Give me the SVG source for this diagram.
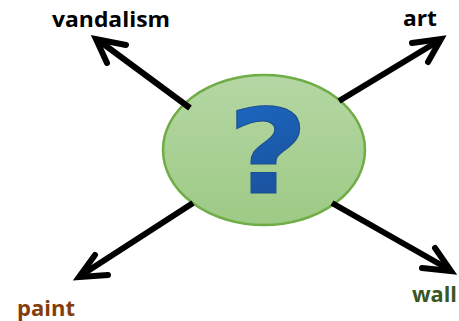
<svg xmlns="http://www.w3.org/2000/svg" width="459" height="321" viewBox="0 0 459 321">
<style>
.lbl{font-family:"Open Sans","DejaVu Sans",sans-serif;font-weight:bold;font-size:21px}
.shaft{fill:none;stroke:#000;stroke-width:6}
.head{fill:none;stroke:#000;stroke-width:6;stroke-linecap:round;stroke-linejoin:miter}
</style>
<defs>
<linearGradient id="gEl" x1="0" y1="0" x2="0" y2="1">
<stop offset="0" stop-color="#b5d7a4"/>
<stop offset="1" stop-color="#9dca85"/>
</linearGradient>
<linearGradient id="gQ" x1="0" y1="0" x2="0.3" y2="1">
<stop offset="0" stop-color="#1b6cc7"/>
<stop offset="1" stop-color="#1b4f99"/>
</linearGradient>
</defs>
<rect width="459" height="321" fill="#fff"/>
<g id="center">
<ellipse cx="264" cy="150" rx="101" ry="75" fill="url(#gEl)" stroke="#70ad47" stroke-width="2.5"/>
<text x="268" y="193" text-anchor="middle" font-family="DejaVu Sans,sans-serif" font-weight="bold" font-size="117" fill="url(#gQ)" stroke="#1d4f8e" stroke-width="1" transform="translate(268 0) scale(1.2 1) translate(-268 0)">?</text>
</g>
<g id="connectors">
<path class="shaft" d="M190,108 L98,40"/>
<path class="head" d="M126,45 L96,39 L107,63"/>
<path class="shaft" d="M339,101 L440,40"/>
<path class="head" d="M412,43 L441,39 L428,62"/>
<path class="shaft" d="M193,203 L80,276"/>
<path class="head" d="M95,255 L79,277 L108,275"/>
<path class="shaft" d="M332,203 L450,270"/>
<path class="head" d="M435,248 L451,271 L422,268"/>
</g>
<g id="vandalism"><text class="lbl" x="52" y="27" textLength="118" lengthAdjust="spacingAndGlyphs" fill="#000">vandalism</text></g>
<g id="art"><text class="lbl" x="403" y="26" textLength="34" lengthAdjust="spacingAndGlyphs" fill="#000">art</text></g>
<g id="paint"><text class="lbl" x="17" y="316" textLength="58" lengthAdjust="spacingAndGlyphs" fill="#843c0c">paint</text></g>
<g id="wall"><text class="lbl" x="412" y="302" textLength="45" lengthAdjust="spacingAndGlyphs" fill="#385723">wall</text></g>
</svg>
